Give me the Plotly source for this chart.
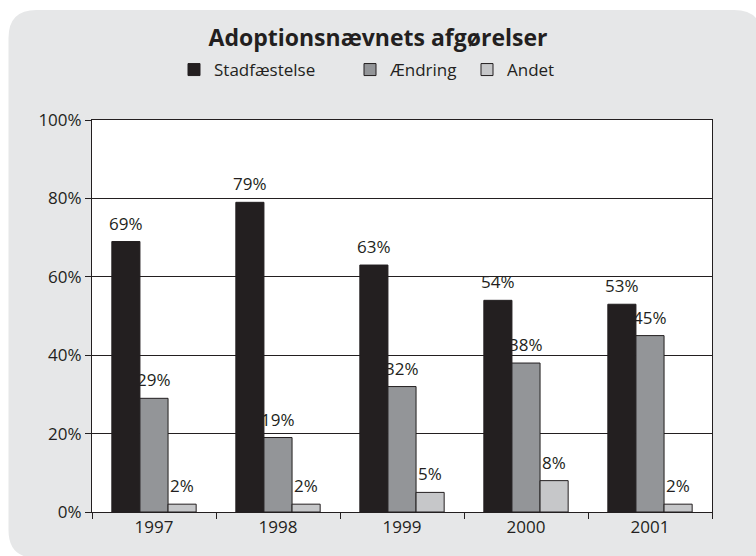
import plotly.graph_objects as go

categories = ["1997", "1998", "1999", "2000", "2001"]
series_names = ["Stadfæstelse", "Ændring", "Andet"]
stadfaestelse = [69, 79, 63, 54, 53]
aendring = [29, 19, 32, 38, 45]
andet = [2, 2, 5, 8, 2]
y_ticks = [0, 20, 40, 60, 80, 100]
y_tick_labels = [f"{t}%" for t in y_ticks]

colors = ["#231f20", "#939598", "#c6c7c9"]
values = [stadfaestelse, aendring, andet]

W, H = 756, 556
ML, MR, MT, MB = 92, 44, 120, 44
PW, PH = W - ML - MR, H - MT - MB
BARGAP = 0.32
FONT = "Open Sans"
INK = "#231f20"


def px(x):
    return (x - ML) / PW


def py(y):
    return (H - MB - y) / PH


fig = go.Figure()
legend_ids = ["legend", "legend2", "legend3"]
for j, (name, vals, col) in enumerate(zip(series_names, values, colors)):
    fig.add_trace(go.Bar(
        x=categories, y=vals, name=name, showlegend=True,
        marker=dict(color=col, line=dict(color=INK, width=1)),
        legend=legend_ids[j],
    ))

# data labels
annotations = []
w = (1 - BARGAP) / len(series_names)
for j, vals in enumerate(values):
    off = (j - (len(series_names) - 1) / 2) * w
    for i, v in enumerate(vals):
        annotations.append(dict(
            x=i + off, y=v, xref="x", yref="y", text=f"{v}%",
            showarrow=False, yanchor="bottom", yshift=5,
            font=dict(family=FONT, size=17, color=INK),
        ))

# background panel (rounded, bottom-right square)
x0, x1, y0, y1, r = 8.5, 770, 10, 570, 28
yb = 558


def P(x, y):
    return f"{px(x):.5f},{py(y):.5f}"


panel = (f"M{P(x0, y0 + r)} Q{P(x0, y0)} {P(x0 + r, y0)} L{P(762 - r, y0)} "
         f"Q{P(762, y0)} {P(762, y0 + r)} L{P(x1, y0 + r)} L{P(x1, y1)} "
         f"L{P(x0 + r, y1)} L{P(x0 + r, yb)} "
         f"Q{P(x0, yb)} {P(x0, yb - r)} Z")
shapes = [
    dict(type="path", path=panel, xref="paper", yref="paper",
         fillcolor="#e6e7e8", line=dict(width=0), layer="below"),
    dict(type="rect", x0=0, x1=1, y0=0, y1=1, xref="paper", yref="paper",
         fillcolor="white", line=dict(width=0), layer="below"),
]

legend_pos = [189, 365, 482]
legends = {}
for j, lid in enumerate(legend_ids):
    legends[lid] = dict(
        x=px(legend_pos[j] - 15), y=py(70), xanchor="left", yanchor="middle",
        orientation="h", bgcolor="rgba(0,0,0,0)", borderwidth=0,
        font=dict(family=FONT, size=17, color=INK), itemclick=False,
        itemwidth=30,
    )

fig.update_layout(
    width=W, height=H,
    margin=dict(l=ML, r=MR, t=MT, b=MB),
    paper_bgcolor="white", plot_bgcolor="rgba(0,0,0,0)",
    barmode="group", bargap=BARGAP, bargroupgap=0,
    title=dict(text="<b>Adoptionsnævnets afgørelser</b>", x=0.5, xanchor="center",
               xref="container", y=1 - 38 / H, yref="container", yanchor="middle",
               font=dict(family=FONT, size=23, color=INK)),
    font=dict(family=FONT, size=17, color=INK),
    shapes=shapes, annotations=annotations,
    **legends,
)
fig.update_xaxes(
    type="category", showline=True, linecolor=INK, linewidth=1, mirror=True,
    ticks="outside", tickson="boundaries", ticklen=6, tickcolor=INK,
    showgrid=False, tickfont=dict(family=FONT, size=17, color=INK),
)
fig.update_yaxes(
    range=[0, 100], tickmode="array", tickvals=y_ticks, ticktext=y_tick_labels,
    showline=True, linecolor=INK, linewidth=1, mirror=True,
    ticks="outside", ticklen=6, tickcolor=INK,
    showgrid=True, gridcolor=INK, gridwidth=1, zeroline=False,
    tickfont=dict(family=FONT, size=17, color=INK),
)

fig.write_html("out.html", config={"displayModeBar": False},
               post_script="document.body.style.margin='0';")
